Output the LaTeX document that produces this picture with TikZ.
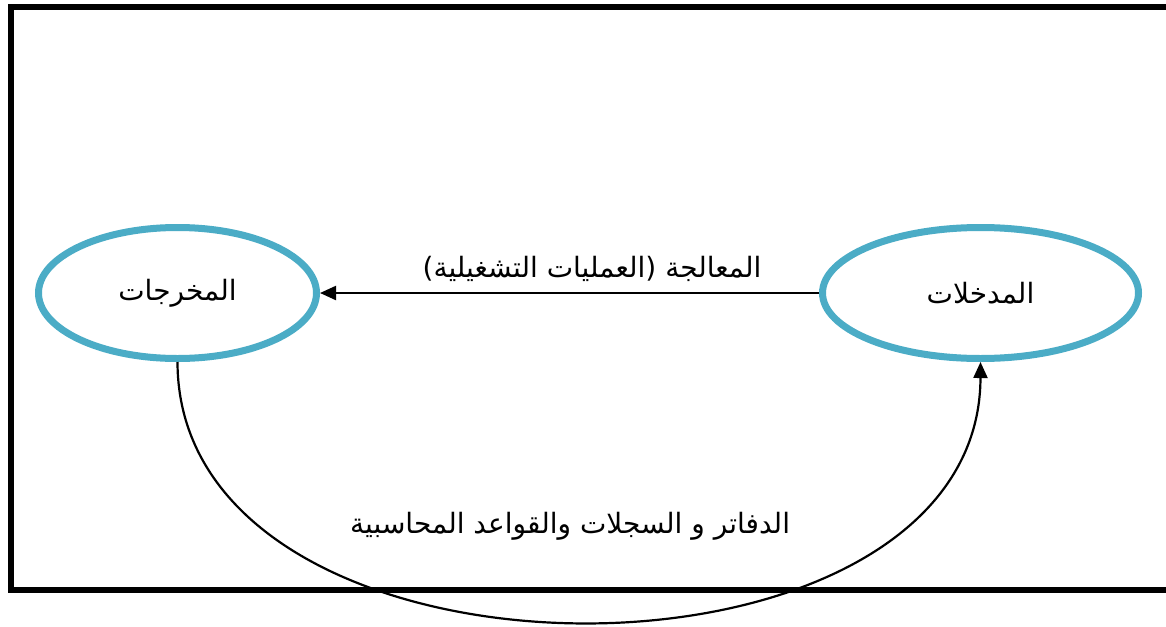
\documentclass[tikz,border=0pt]{standalone}
\usepackage{fontspec}
\usepackage{tikz}
\usetikzlibrary{arrows.meta,shapes.geometric}
\TeXXeTstate=1
\newfontfamily\arabicfont[Script=Arabic]{DejaVu Sans}
\definecolor{cyclecyan}{HTML}{4BACC6}
\tikzset{
  stagering/.style={
    ellipse,
    draw=cyclecyan,
    line width=7pt,
    minimum height=131pt,
    inner sep=0pt,
    fill=white,
    font=\arabicfont\fontsize{28}{32}\selectfont
  },
  flow/.style={
    -{Triangle[length=16pt,width=14pt]},
    draw=black,
    line width=2.2pt
  },
  caption/.style={
    font=\arabicfont\fontsize{28}{32}\selectfont,
    inner sep=1pt
  }
}
\begin{document}
\begin{tikzpicture}[x=1pt, y=-1pt]
\useasboundingbox (0,0) rectangle (1166,626);

% Outer frame.
\draw[line width=6.5pt] (11,7) rectangle (1169,590);

% The two stages of the cycle.
\node[stagering, minimum width=278pt] (outputs) at (177.5,293)
  {\beginR المخرجات\endR};
\node[stagering, minimum width=316pt] (inputs) at (980.5,293)
  {\beginR المدخلات\endR};

% Processing arrow and its label.
\draw[flow] (inputs.west) -- (outputs.east);
\node[caption] (processing) at (592,269)
  {\beginR المعالجة (العمليات التشغيلية)\endR};

% Feedback curve through the books and records.
\draw[flow] (outputs.south) .. controls (178,708) and (980,708) .. (inputs.south);
\node[caption] (records) at (570,526)
  {\beginR الدفاتر و السجلات والقواعد المحاسبية\endR};

\end{tikzpicture}
\end{document}
